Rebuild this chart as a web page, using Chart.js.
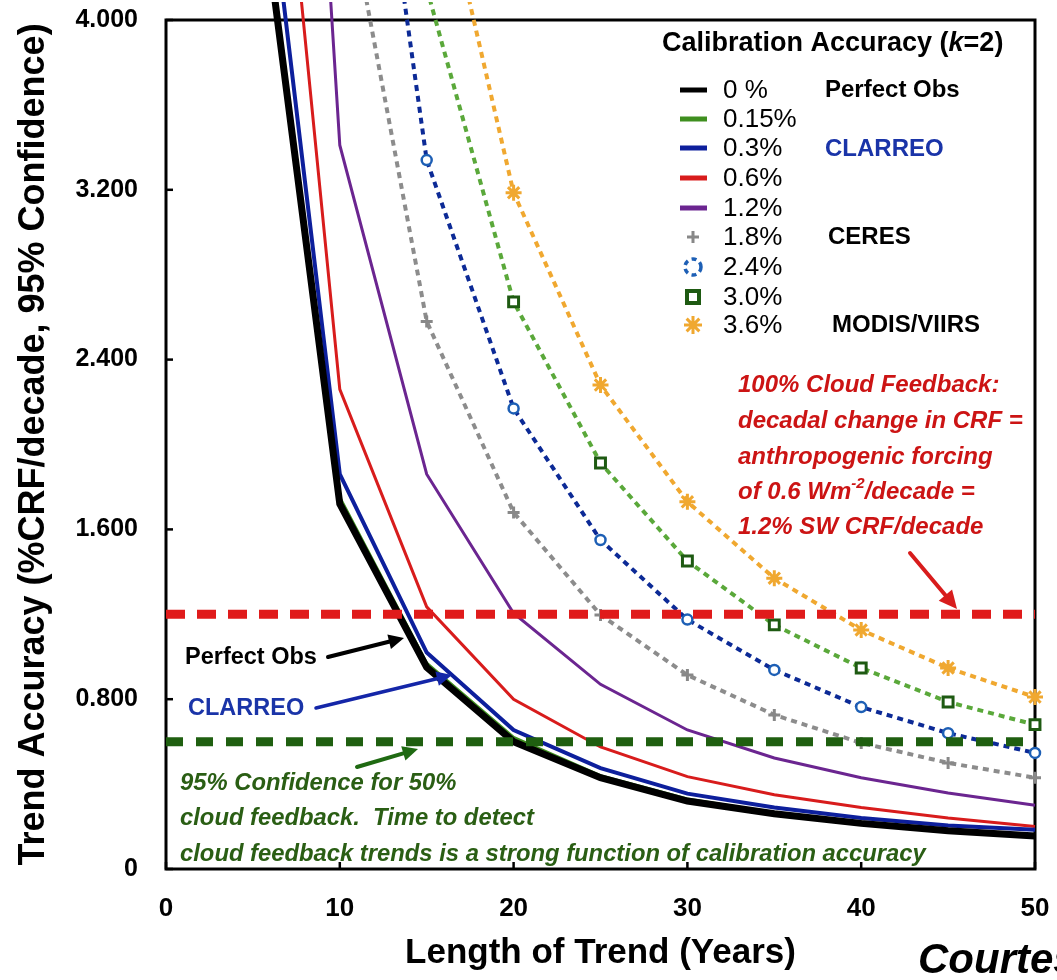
<!DOCTYPE html>
<html><head><meta charset="utf-8">
<script src="https://cdn.jsdelivr.net/npm/chart.js@4.4.1/dist/chart.umd.min.js"></script>
<style>
html,body{margin:0;padding:0;background:#fff;overflow:hidden}
#wrap{position:relative;width:1057px;height:980px;overflow:hidden}
#courtesy{position:absolute;left:918px;top:935px;font:italic bold 42px "Liberation Sans",Arial,sans-serif;white-space:nowrap;color:#000}
</style></head><body>
<div id="wrap"><canvas id="c" width="1057" height="980" style="width:1057px;height:980px"></canvas><div id="courtesy">Courtesy</div></div>
<script>
// ---- data ----
const years = [5, 10, 15, 20, 25, 30, 35, 40, 45, 50];
const calLabels = ['0 %', '0.15%', '0.3%', '0.6%', '1.2%', '1.8%', '2.4%', '3.0%', '3.6%'];
const cal000 = [4.90, 1.72, 0.95, 0.60, 0.43, 0.32, 0.26, 0.215, 0.18, 0.155];
const cal015 = [4.95, 1.75, 0.97, 0.62, 0.44, 0.33, 0.265, 0.22, 0.185, 0.16];
const cal030 = [5.30, 1.86, 1.02, 0.655, 0.475, 0.355, 0.29, 0.24, 0.205, 0.185];
const cal060 = [6.40, 2.26, 1.235, 0.80, 0.575, 0.435, 0.35, 0.29, 0.24, 0.20];
const cal120 = [9.90, 3.41, 1.86, 1.205, 0.87, 0.655, 0.523, 0.43, 0.358, 0.30];
const cal180 = [null, 4.76, 2.58, 1.68, 1.197, 0.914, 0.726, 0.594, 0.50, 0.43];
const cal240 = [null, 6.26, 3.34, 2.17, 1.55, 1.175, 0.938, 0.763, 0.64, 0.547];
const cal300 = [null, null, 4.15, 2.672, 1.913, 1.451, 1.15, 0.947, 0.787, 0.68];
const cal360 = [null, null, 4.96, 3.186, 2.28, 1.73, 1.37, 1.126, 0.947, 0.81];
const thresholdYears = [0, 50];
const cloud100 = [1.2, 1.2];
const cloud50 = [0.6, 0.6];
const xTickLabels = ['0', '10', '20', '30', '40', '50'];
const yTickLabels = ['0', '0.800', '1.600', '2.400', '3.200', '4.000'];

const FONT = '"Liberation Sans", Arial, sans-serif';
const pts = (xs, arr) => xs.map((x, i) => ({x: x, y: arr[i]})).filter(p => p.y !== null);

function curve(label, arr, color, width, extra) {
  return Object.assign({
    label: label, data: pts(years, arr), borderColor: color, backgroundColor: color,
    borderWidth: width, pointRadius: 0, tension: 0, inLegend: true, fill: false,
    clip: {left: 0, top: 18, right: 16, bottom: 0}
  }, extra || {});
}

const datasets = [
  curve(calLabels[0], cal000, '#000000', 7),
  curve(calLabels[1], cal015, '#3f8f1f', 3),
  curve(calLabels[2], cal030, '#0d1f9c', 4),
  curve(calLabels[3], cal060, '#d81c1c', 3),
  curve(calLabels[4], cal120, '#6b2590', 3),
  curve(calLabels[5], cal180, '#8c8c8c', 4, {borderDash: [6, 5], pointRadius: 6, pointStyle: 'cross', pointBorderWidth: 3, pointBorderColor: '#888888', mk: 'cross'}),
  curve(calLabels[6], cal240, '#0c2a96', 4, {borderDash: [6, 5], pointRadius: 5, pointStyle: 'circle', pointBorderWidth: 2.5, pointBorderColor: '#1d5fb5', pointBackgroundColor: '#ffffff', mk: 'dcircle'}),
  curve(calLabels[7], cal300, '#5aa83a', 4, {borderDash: [6, 5], pointRadius: 7, pointStyle: 'rect', pointBorderWidth: 3, pointBorderColor: '#1e5a12', pointBackgroundColor: '#ffffff', mk: 'rect'}),
  curve(calLabels[8], cal360, '#f0a830', 4, {borderDash: [6, 5], pointRadius: 8, pointStyle: 'star', pointBorderWidth: 3, pointBorderColor: '#f0a830', mk: 'star'}),
  {label: '100% cloud feedback', data: pts(thresholdYears, cloud100), borderColor: '#e01b1b', borderWidth: 9, borderDash: [19, 12], pointRadius: 0, order: -1, inLegend: false, clip: 0},
  {label: '50% cloud feedback', data: pts(thresholdYears, cloud50), borderColor: '#1f5f10', borderWidth: 9, borderDash: [17, 13], pointRadius: 0, order: -1, inLegend: false, clip: 0}
];

function arrow(ctx, x1, y1, x2, y2, color, w, head) {
  const a = Math.atan2(y2 - y1, x2 - x1);
  ctx.save();
  ctx.strokeStyle = color; ctx.fillStyle = color; ctx.lineWidth = w; ctx.lineCap = 'round';
  ctx.beginPath(); ctx.moveTo(x1, y1);
  ctx.lineTo(x2 - Math.cos(a) * head * 0.8, y2 - Math.sin(a) * head * 0.8); ctx.stroke();
  ctx.beginPath(); ctx.moveTo(x2, y2);
  ctx.lineTo(x2 - head * Math.cos(a - 0.45), y2 - head * Math.sin(a - 0.45));
  ctx.lineTo(x2 - head * Math.cos(a + 0.45), y2 - head * Math.sin(a + 0.45));
  ctx.closePath(); ctx.fill();
  ctx.restore();
}

function marker(ctx, kind, x, y, color) {
  ctx.save();
  ctx.strokeStyle = color; ctx.fillStyle = '#fff'; ctx.lineWidth = 3;
  if (kind === 'cross') {
    ctx.beginPath(); ctx.moveTo(x - 6, y); ctx.lineTo(x + 6, y); ctx.moveTo(x, y - 6); ctx.lineTo(x, y + 6); ctx.stroke();
  } else if (kind === 'dcircle') {
    ctx.setLineDash([5, 4]); ctx.lineWidth = 3.5;
    ctx.beginPath(); ctx.arc(x, y, 8, 0, Math.PI * 2); ctx.stroke();
  } else if (kind === 'rect') {
    ctx.lineWidth = 4; ctx.beginPath(); ctx.rect(x - 6, y - 6, 12, 12); ctx.fill(); ctx.stroke();
  } else if (kind === 'star') {
    ctx.beginPath();
    for (let k = 0; k < 4; k++) {
      const a = k * Math.PI / 4;
      ctx.moveTo(x - 9 * Math.cos(a), y - 9 * Math.sin(a)); ctx.lineTo(x + 9 * Math.cos(a), y + 9 * Math.sin(a));
    }
    ctx.stroke();
  }
  ctx.restore();
}

const framePlugin = {
  id: 'frame',
  beforeDatasetsDraw(chart) {
    const {ctx, chartArea: a, scales} = chart;
    ctx.save();
    ctx.strokeStyle = '#000'; ctx.lineWidth = 3;
    ctx.strokeRect(a.left, a.top, a.right - a.left, a.bottom - a.top);
    ctx.lineWidth = 2.5;
    scales.x.ticks.forEach(t => {
      const px = scales.x.getPixelForValue(t.value);
      ctx.beginPath(); ctx.moveTo(px, a.bottom); ctx.lineTo(px, a.bottom - 7); ctx.stroke();
    });
    scales.y.ticks.forEach(t => {
      const py = scales.y.getPixelForValue(t.value);
      ctx.beginPath(); ctx.moveTo(a.left, py); ctx.lineTo(a.left + 7, py); ctx.stroke();
    });
    ctx.restore();
  },
  afterDraw(chart) {
    const ctx = chart.ctx;
    ctx.save();
    // legend
    ctx.fillStyle = '#000'; ctx.textBaseline = 'middle'; ctx.textAlign = 'left';
    ctx.font = 'bold 27px ' + FONT;
    let tx = 662;
    const t1 = 'Calibration Accuracy (';
    ctx.fillText(t1, tx, 44); tx += ctx.measureText(t1).width;
    ctx.font = 'italic bold 27px ' + FONT; ctx.fillText('k', tx, 44); tx += ctx.measureText('k').width;
    ctx.font = 'bold 27px ' + FONT; ctx.fillText('=2)', tx, 44);
    const rows = [90, 119, 148, 178, 208, 237, 267, 297, 325];
    const legendSets = chart.data.datasets.filter(d => d.inLegend);
    legendSets.forEach((d, i) => {
      const y = rows[i];
      if (d.mk) {
        marker(ctx, d.mk, 693, y, d.mk === 'dcircle' ? '#1d5fb5' : (d.pointBorderColor || d.borderColor));
      } else {
        ctx.strokeStyle = d.borderColor; ctx.lineWidth = 5;
        ctx.beginPath(); ctx.moveTo(680, y); ctx.lineTo(707, y); ctx.stroke();
      }
      ctx.fillStyle = '#000'; ctx.font = '26px ' + FONT;
      ctx.fillText(d.label, 723, y + 1);
    });
    ctx.font = 'bold 24px ' + FONT;
    ctx.fillStyle = '#000'; ctx.fillText('Perfect Obs', 825, 90);
    ctx.fillStyle = '#1a34a8'; ctx.fillText('CLARREO', 825, 149);
    ctx.fillStyle = '#000'; ctx.fillText('CERES', 828, 237);
    ctx.fillText('MODIS/VIIRS', 832, 325);

    // red annotation
    ctx.fillStyle = '#cc1414'; ctx.font = 'italic bold 24px ' + FONT;
    ctx.fillText('100% Cloud Feedback:', 738, 385);
    ctx.fillText('decadal change in CRF =', 738, 421);
    ctx.fillText('anthropogenic forcing', 738, 457);
    let rx = 738;
    const p1 = 'of 0.6 Wm';
    ctx.fillText(p1, rx, 492); rx += ctx.measureText(p1).width;
    ctx.font = 'italic bold 15px ' + FONT; ctx.fillText('-2', rx, 484); rx += ctx.measureText('-2').width;
    ctx.font = 'italic bold 24px ' + FONT; ctx.fillText('/decade =', rx, 492);
    ctx.fillText('1.2% SW CRF/decade', 738, 527);
    arrow(ctx, 910, 553, 957, 609, '#d81c1c', 4, 20);

    // perfect obs / clarreo
    ctx.fillStyle = '#000'; ctx.font = 'bold 23.5px ' + FONT;
    ctx.fillText('Perfect Obs', 185, 658);
    arrow(ctx, 328, 657, 404, 638, '#000', 4, 17);
    ctx.fillStyle = '#1a34a8';
    ctx.fillText('CLARREO', 188, 709);
    arrow(ctx, 316, 708, 452, 675, '#1426a8', 3.5, 17);

    // green annotation
    ctx.fillStyle = '#2a5e14'; ctx.font = 'italic bold 23.8px ' + FONT;
    ctx.fillText('95% Confidence for 50%', 180, 783);
    ctx.fillText('cloud feedback.  Time to detect', 180, 818);
    ctx.fillText('cloud feedback trends is a strong function of calibration accuracy', 180, 854);
    arrow(ctx, 357, 767, 418, 749, '#1f6a12', 4, 17);
    ctx.restore();
  }
};

Chart.defaults.font.family = FONT;
Chart.defaults.color = '#000';

new Chart(document.getElementById('c'), {
  type: 'line',
  data: {datasets: datasets},
  options: {
    responsive: false, animation: false, devicePixelRatio: 1,
    layout: {padding: {left: 0, right: 22, top: 20, bottom: 0}},
    plugins: {legend: {display: false}, tooltip: {enabled: false}},
    scales: {
      x: {
        type: 'linear', min: 0, max: 50,
        ticks: {stepSize: 10, padding: 24, font: {size: 26, weight: 'bold'}, color: '#000',
          callback: (v, i) => xTickLabels[i]},
        grid: {display: false, drawTicks: false},
        border: {display: false},
        title: {display: true, text: 'Length of Trend (Years)', font: {size: 35, weight: 'bold'}, color: '#000', padding: {top: 0, bottom: 6}},
        afterFit: s => { s.height = 111; s.paddingLeft = 0; s.paddingRight = 0; }
      },
      y: {
        type: 'linear', min: 0, max: 4,
        ticks: {stepSize: 0.8, padding: 28, font: {size: 25, weight: 'bold'}, color: '#000',
          callback: (v, i) => yTickLabels[i]},
        grid: {display: false, drawTicks: false},
        border: {display: false},
        title: {display: true, text: 'Trend Accuracy (%CRF/decade, 95% Confidence)', font: {size: 36, weight: 'bold'}, color: '#000', padding: {top: 12, bottom: 0}},
        afterFit: s => { s.width = 166; s.paddingTop = 0; s.paddingBottom = 0; }
      }
    }
  },
  plugins: [framePlugin]
});
</script>
</body></html>
